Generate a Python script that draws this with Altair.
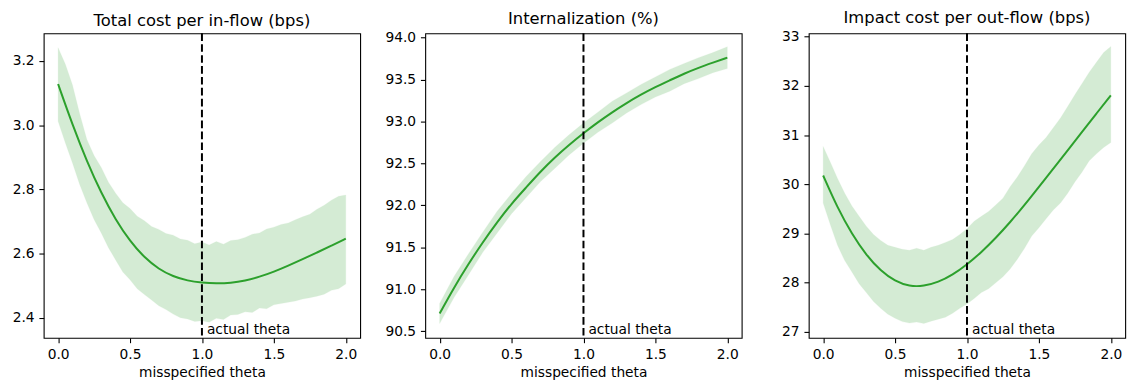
import altair as alt
import pandas as pd

# ---- data ----
theta_line = [0.0, 0.1, 0.2, 0.3, 0.4, 0.5, 0.6, 0.7, 0.8, 0.9, 1.0,
              1.1, 1.2, 1.3, 1.4, 1.5, 1.6, 1.7, 1.8, 1.9, 2.0]
theta_band = [0.0, 0.05, 0.1, 0.15, 0.2, 0.25, 0.3, 0.35, 0.4, 0.45, 0.5,
              0.55, 0.6, 0.65, 0.7, 0.75, 0.8, 0.85, 0.9, 0.95, 1.0,
              1.05, 1.1, 1.15, 1.2, 1.25, 1.3, 1.35, 1.4, 1.45, 1.5,
              1.55, 1.6, 1.65, 1.7, 1.75, 1.8, 1.85, 1.9, 1.95, 2.0]

# Panel 1: Total cost per in-flow (bps)
cost_line = [3.128, 3.001, 2.887, 2.788, 2.705, 2.638, 2.587, 2.551, 2.528, 2.515, 2.509,
             2.506, 2.508, 2.515, 2.527, 2.543, 2.562, 2.582, 2.603, 2.624, 2.646]
cost_upper = [3.241, 3.190, 3.125, 3.035, 2.955, 2.905, 2.868, 2.822, 2.788, 2.758, 2.740,
              2.716, 2.702, 2.684, 2.675, 2.662, 2.657, 2.645, 2.641, 2.630, 2.636,
              2.626, 2.637, 2.629, 2.640, 2.643, 2.650, 2.660, 2.664, 2.676, 2.682,
              2.690, 2.695, 2.705, 2.714, 2.722, 2.738, 2.750, 2.766, 2.778, 2.782]
cost_lower = [3.012, 2.945, 2.882, 2.815, 2.758, 2.706, 2.664, 2.618, 2.580, 2.542, 2.518,
              2.490, 2.472, 2.455, 2.437, 2.425, 2.411, 2.400, 2.396, 2.388, 2.390,
              2.386, 2.398, 2.394, 2.408, 2.410, 2.418, 2.416, 2.430, 2.428, 2.440,
              2.444, 2.448, 2.452, 2.458, 2.462, 2.467, 2.473, 2.485, 2.490, 2.505]

# Panel 2: Internalization (%)
theta_band2 = theta_line
int_line = [90.71, 91.02, 91.30, 91.56, 91.80, 92.02, 92.21, 92.40, 92.57, 92.72, 92.86,
            92.99, 93.11, 93.22, 93.32, 93.41, 93.49, 93.57, 93.64, 93.70, 93.76]
int_upper = [90.83, 91.15, 91.42, 91.68, 91.93, 92.14, 92.34, 92.52, 92.69, 92.84, 92.98,
             93.11, 93.24, 93.34, 93.44, 93.53, 93.62, 93.69, 93.76, 93.82, 93.89]
int_lower = [90.59, 90.90, 91.17, 91.44, 91.67, 91.90, 92.09, 92.28, 92.44, 92.60, 92.74,
             92.87, 92.98, 93.10, 93.20, 93.29, 93.36, 93.45, 93.51, 93.58, 93.63]

# Panel 3: Impact cost per out-flow (bps)
imp_line = [30.18, 29.52, 28.99, 28.56, 28.24, 28.03, 27.925, 27.93, 28.01, 28.16, 28.37,
            28.62, 28.91, 29.23, 29.58, 29.95, 30.32, 30.69, 31.07, 31.44, 31.81]
imp_upper = [30.77, 30.45, 30.12, 29.82, 29.56, 29.35, 29.15, 28.98, 28.86, 28.76, 28.72,
             28.68, 28.66, 28.70, 28.66, 28.72, 28.76, 28.82, 28.88, 28.98, 29.10,
             29.25, 29.35, 29.45, 29.58, 29.72, 29.95, 30.15, 30.38, 30.62, 30.80,
             30.95, 31.15, 31.35, 31.58, 31.82, 32.05, 32.28, 32.48, 32.68, 32.80]
imp_lower = [29.62, 29.18, 28.76, 28.45, 28.22, 27.98, 27.80, 27.62, 27.48, 27.36, 27.28,
             27.21, 27.18, 27.20, 27.17, 27.22, 27.26, 27.30, 27.38, 27.48, 27.57,
             27.68, 27.80, 27.88, 28.00, 28.12, 28.28, 28.48, 28.70, 28.95, 29.12,
             29.30, 29.48, 29.62, 29.82, 30.05, 30.25, 30.48, 30.62, 30.75, 30.85]

titles = ["Total cost per in-flow (bps)", "Internalization (%)", "Impact cost per out-flow (bps)"]
y_domains = [[2.337, 3.286], [90.42, 94.05], [26.88, 33.07]]
y_ticks = [[2.4, 2.6, 2.8, 3.0, 3.2],
           [90.5, 91.0, 91.5, 92.0, 92.5, 93.0, 93.5, 94.0],
           [27, 28, 29, 30, 31, 32, 33]]
y_formats = [".1f", ".1f", "d"]
y_extents = [32, 41, 43]
x_ticks = [0.0, 0.5, 1.0, 1.5, 2.0]
actual_theta = 1.0
annot = "actual theta"

GREEN = "#2ca02c"
W, H = 319, 307
FS = 13.9


def panel(i, tb, lo, hi, ln):
    band_df = pd.DataFrame({"theta": tb, "lo": lo, "hi": hi})
    line_df = pd.DataFrame({"theta": theta_line, "v": ln})
    mark_df = pd.DataFrame({"theta": [actual_theta], "label": [annot]})
    xs = alt.Scale(domain=[-0.1, 2.1], nice=False, zero=False)
    ys = alt.Scale(domain=y_domains[i], nice=False, zero=False)
    xax = alt.Axis(values=x_ticks, format=".1f", title="misspecified theta")
    yax = alt.Axis(values=y_ticks[i], format=y_formats[i], title=None,
                   minExtent=y_extents[i], maxExtent=y_extents[i])
    band = alt.Chart(band_df).mark_area(
        color=GREEN, opacity=0.2, stroke=GREEN, strokeWidth=1, strokeOpacity=0.2
    ).encode(
        x=alt.X("theta:Q", scale=xs, axis=xax),
        y=alt.Y("lo:Q", scale=ys, axis=yax),
        y2="hi:Q",
    )
    line = alt.Chart(line_df).mark_line(
        color=GREEN, strokeWidth=2, interpolate="basis"
    ).encode(x="theta:Q", y="v:Q")
    rule = alt.Chart(mark_df).mark_rule(
        color="black", strokeWidth=2, strokeDash=[7.7, 3.3]
    ).encode(x="theta:Q")
    txt = alt.Chart(mark_df).mark_text(
        align="left", baseline="alphabetic", dx=5,
        fontSize=FS, color="black", font="DejaVu Sans"
    ).encode(x="theta:Q", y=alt.value(H - 3.4), text="label:N")
    return alt.layer(band, line, rule, txt).properties(
        width=W, height=H, title=titles[i]
    )


p1 = panel(0, theta_band, cost_lower, cost_upper, cost_line)
p2 = panel(1, theta_band2, int_lower, int_upper, int_line)
p3 = panel(2, theta_band, imp_lower, imp_upper, imp_line)

chart = alt.hconcat(p1, p2, p3, spacing=22.6).properties(
    padding={"left": 3, "top": 0, "right": 2, "bottom": 2}
).configure(
    font="DejaVu Sans"
).configure_axis(
    grid=False, domain=False, tickColor="black", tickSize=4.86, tickWidth=1.1,
    labelPadding=4.86, labelColor="black", labelFont="DejaVu Sans", labelFontSize=FS,
    titleFont="DejaVu Sans", titleFontSize=FS, titleFontWeight="normal",
    titleColor="black", titlePadding=4
).configure_title(
    font="DejaVu Sans", fontSize=16.5, fontWeight="normal", color="black", offset=3
).configure_view(
    stroke="black", strokeWidth=1.1
)

chart.save("out.html", embed_options={"renderer": "svg", "actions": False})
